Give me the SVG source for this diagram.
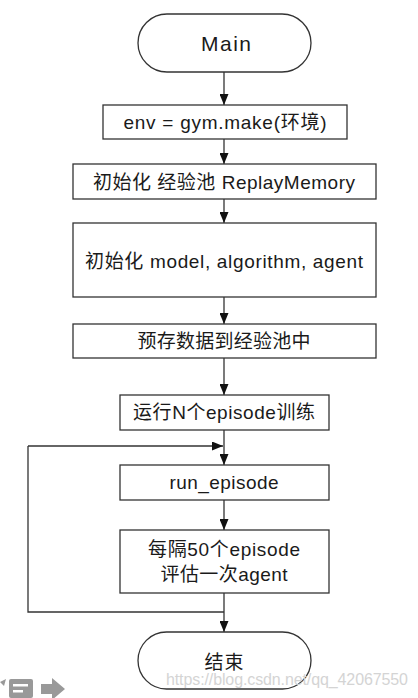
<svg xmlns="http://www.w3.org/2000/svg" width="418" height="698" viewBox="0 0 418 698">
<style>
.box{fill:#fff;stroke:#333;stroke-width:1.3}
.t{font-family:"Liberation Sans","Noto Sans CJK SC",sans-serif;font-size:19px;fill:#1a1a1a;text-anchor:middle}
.c{fill:none;stroke:#333;stroke-width:1.3}
.wm{font-family:"Liberation Sans",sans-serif;font-size:16px;fill:#d4d4d4}
</style>
<defs>
<marker id="ah" markerUnits="userSpaceOnUse" markerWidth="11" markerHeight="9" refX="11" refY="4.5" orient="auto">
<path d="M0,0 L11,4.5 L0,9 z" fill="#111"/>
</marker>
</defs>
<rect width="418" height="698" fill="#fff"/>
<g id="connectors">
<line class="c" x1="224" y1="72" x2="224" y2="105" marker-end="url(#ah)"/>
<line class="c" x1="224" y1="139" x2="224" y2="164" marker-end="url(#ah)"/>
<line class="c" x1="224" y1="199" x2="224" y2="223" marker-end="url(#ah)"/>
<line class="c" x1="224" y1="297" x2="224" y2="324" marker-end="url(#ah)"/>
<line class="c" x1="224" y1="358" x2="224" y2="395" marker-end="url(#ah)"/>
<line class="c" x1="224" y1="430" x2="224" y2="465" marker-end="url(#ah)"/>
<line class="c" x1="28" y1="446" x2="223" y2="446" marker-end="url(#ah)"/>
<line class="c" x1="224" y1="500" x2="224" y2="530" marker-end="url(#ah)"/>
<line class="c" x1="224" y1="593" x2="224" y2="632" marker-end="url(#ah)"/>
<polyline class="c" points="224,612 28,612 28,446"/>
</g>
<g id="main">
<rect class="box" x="138" y="14" width="173" height="58" rx="29"/>
<text class="t" x="226" y="51" style="font-size:21px" textLength="50">Main</text>
</g>
<g id="env">
<rect class="box" x="103" y="105" width="244" height="34"/>
<text class="t" x="225" y="129" textLength="203">env = gym.make(环境)</text>
</g>
<g id="replay">
<rect class="box" x="73" y="164" width="303" height="35"/>
<text class="t" x="224" y="189" textLength="262">初始化 经验池 ReplayMemory</text>
</g>
<g id="init">
<rect class="box" x="73" y="223" width="303" height="74"/>
<text class="t" x="224" y="268" textLength="278">初始化 model, algorithm, agent</text>
</g>
<g id="prestore">
<rect class="box" x="73" y="324" width="303" height="34"/>
<text class="t" x="224" y="348" textLength="173">预存数据到经验池中</text>
</g>
<g id="runN">
<rect class="box" x="120" y="395" width="209" height="35"/>
<text class="t" x="224" y="419" textLength="182">运行N个episode训练</text>
</g>
<g id="run_episode">
<rect class="box" x="120" y="465" width="209" height="35"/>
<text class="t" x="224" y="489" textLength="109">run_episode</text>
</g>
<g id="evaluate">
<rect class="box" x="120" y="530" width="209" height="63"/>
<text class="t" x="224" y="556" textLength="152">每隔50个episode</text>
<text class="t" x="224" y="581" textLength="127">评估一次agent</text>
</g>
<g id="end">
<rect class="box" x="138" y="632" width="173" height="57" rx="28.5"/>
<text class="t" x="224" y="669" textLength="39">结束</text>
</g>
<text class="wm" x="166" y="685" textLength="242">https://blog.csdn.net/qq_42067550</text>
<g id="icons" fill="#999">
<path d="M0,682 L6,679 L4,686 z"/>
<rect x="9" y="679" width="24" height="19" rx="2"/>
<rect x="13" y="684" width="15" height="2.5" fill="#fff"/>
<rect x="13" y="690" width="10" height="2.5" fill="#fff"/>
<path d="M41,684 L52,684 L52,678 L65,689 L52,700 L52,694 L41,694 z"/>
</g>
</svg>
